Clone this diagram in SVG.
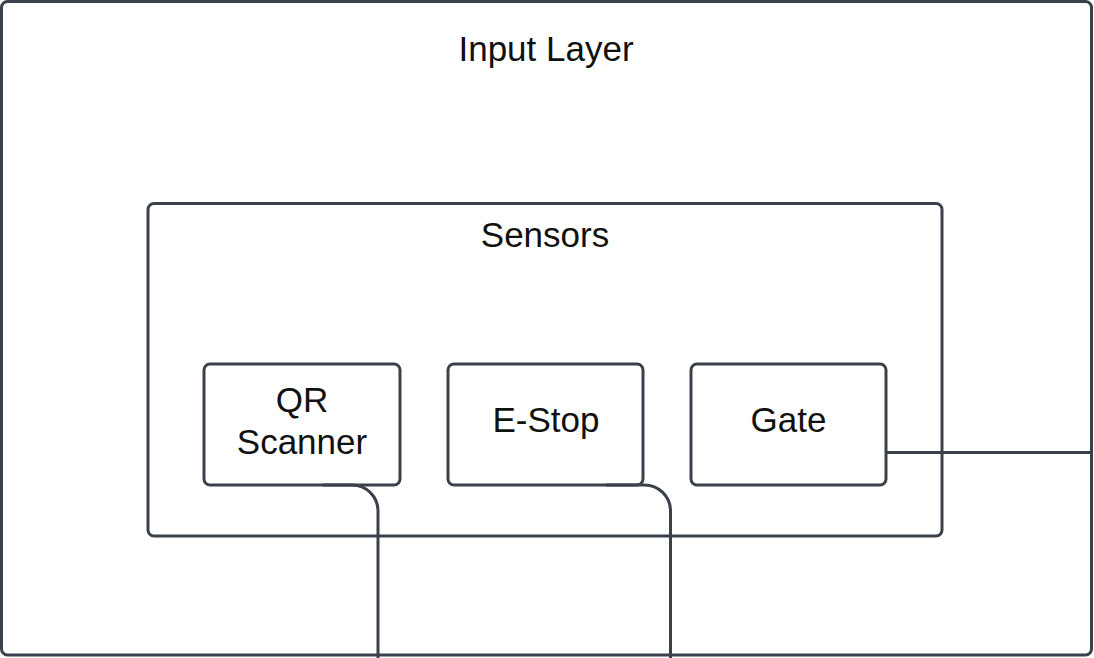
<svg xmlns="http://www.w3.org/2000/svg" width="1094" height="658" viewBox="0 0 1094 658">
<style>
.box{fill:#ffffff;stroke:#3a414a;stroke-width:3}
.inner{fill:none;stroke:#3a414a;stroke-width:3}
.lbl{font-family:"Liberation Sans",Arial,sans-serif;font-size:35px;fill:#111111;text-anchor:middle}
.conn{fill:none;stroke:#3a414a;stroke-width:3}
</style>
<rect width="1094" height="658" fill="#ffffff"/>
<g id="input-layer">
<rect class="box" x="1.5" y="1.5" width="1090" height="653.5" rx="6"/>
<text class="lbl" x="546" y="61">Input Layer</text>
</g>
<g id="sensors">
<rect class="inner" x="148" y="203.5" width="794" height="332.5" rx="6"/>
<text class="lbl" x="545" y="247">Sensors</text>
</g>
<g id="qr-scanner">
<rect class="inner" x="204" y="364" width="196" height="121" rx="6"/>
<text class="lbl" x="302" y="412">QR</text>
<text class="lbl" x="302" y="454">Scanner</text>
</g>
<g id="e-stop">
<rect class="inner" x="448" y="364" width="195" height="121" rx="6"/>
<text class="lbl" x="546" y="432">E-Stop</text>
</g>
<g id="gate">
<rect class="inner" x="691" y="364" width="195" height="121" rx="6"/>
<text class="lbl" x="788.5" y="432">Gate</text>
</g>
<g id="connectors">
<path class="conn" d="M323,485 H352 A26,26 0 0 1 378,511 V658"/>
<path class="conn" d="M606,485 H644 A26,26 0 0 1 670.5,511 V658"/>
<path class="conn" d="M886,452.5 H1091.5"/>
</g>
</svg>
